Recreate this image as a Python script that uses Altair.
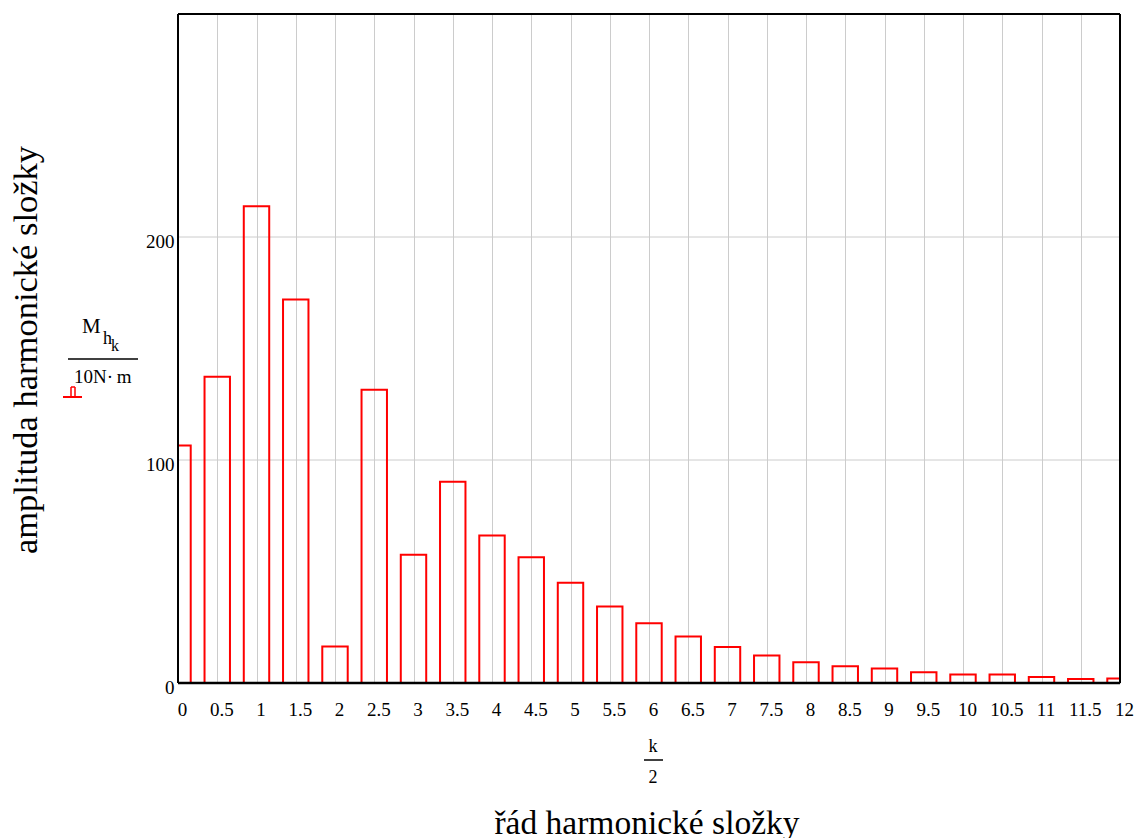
import altair as alt
import pandas as pd

# Harmonic order (k/2) and amplitude M_h_k / (10 N·m)
order = [0, 0.5, 1, 1.5, 2, 2.5, 3, 3.5, 4, 4.5, 5, 5.5, 6, 6.5, 7, 7.5, 8,
         8.5, 9, 9.5, 10, 10.5, 11, 11.5, 12]
amplitude = [106.5, 137.3, 213.8, 172.0, 16.4, 131.5, 57.5, 90.2, 66.1, 56.4,
             44.9, 34.3, 26.8, 20.9, 16.1, 12.3, 9.3, 7.5, 6.5, 4.8, 3.8, 3.8,
             2.7, 1.8, 2.0]
x_ticks = [i / 2 for i in range(25)]
y_ticks = [0, 100, 200]
y_grid = [100, 200]

HALF_W = 0.162
FONT = "Liberation Serif"
W, H = 942, 669

df = pd.DataFrame({"order": order, "amp": amplitude})
df["x0"] = df["order"] - HALF_W
df["x1"] = df["order"] + HALF_W
df["base"] = 0

xs = alt.Scale(domain=[0, 12], nice=False, zero=False)
ys = alt.Scale(domain=[0, 300], nice=False)

bars = alt.Chart(df).mark_rect(
    fill=None, fillOpacity=0, stroke="#ff0000", strokeWidth=2, clip=True
).encode(
    x=alt.X("x0:Q", scale=xs, axis=alt.Axis(
        values=x_ticks, format="~g", title=None, ticks=False,
        labelFont=FONT, labelFontSize=19, labelColor="black",
        labelPadding=17, labelOffset=4, labelFlush=False, labelOverlap=False,
        domain=False, grid=True, gridColor="#cccccc", gridWidth=1)),
    x2="x1:Q",
    y=alt.Y("amp:Q", scale=ys, axis=alt.Axis(
        values=y_ticks, title=None, ticks=False,
        labelFont=FONT, labelFontSize=19, labelColor="black",
        labelPadding=4, labelOffset=4, labelFlush=False,
        domain=False, grid=False)),
    y2="base:Q",
)

ygrid = alt.Chart(pd.DataFrame({"g": y_grid})).mark_rule(
    color="#cccccc", strokeWidth=1
).encode(y=alt.Y("g:Q", scale=ys))

one = pd.DataFrame({"a": [0]})


def label(text, x, y, size, align="left", angle=0, color="black"):
    return alt.Chart(one).mark_text(
        text=text, font=FONT, fontSize=size, align=align,
        baseline="alphabetic", angle=angle, color=color
    ).encode(x=alt.value(x), y=alt.value(y))


def seg(x1, x2, y1, y2, color="black", w=1.5):
    return alt.Chart(one).mark_rule(color=color, strokeWidth=w).encode(
        x=alt.value(x1), x2=alt.value(x2), y=alt.value(y1), y2=alt.value(y2))


# plot frame
frame = [
    seg(0, W, 0, 0, w=2),
    seg(W, W, 0, H, w=2),
    seg(0, 0, 0, H, w=2),
    seg(0, W, H, H, w=2.5),
]

annotations = [
    label("amplituda harmonické složky", -141, 336, 34.5, align="center", angle=270),
    label("řád harmonické složky", 469, 820, 33.5, align="center"),
    label("k", 475, 738, 18, align="center"),
    seg(466, 485, 746, 746),
    label("2", 475, 769, 18, align="center"),
    label("M", -96, 319, 21),
    label("h", -75, 330, 18),
    label("k", -67, 337, 16),
    seg(-110, -40, 345, 345),
    label("10N·\u2009m", -104, 369, 19),
    seg(-115, -96, 383, 383, color="#ff0000", w=2),
    seg(-107, -107, 373, 383, color="#ff0000", w=1.5),
    seg(-103, -103, 373, 383, color="#ff0000", w=1.5),
    seg(-107, -103, 373, 373, color="#ff0000", w=1.5),
]

chart = alt.layer(ygrid, bars, *frame, *annotations).properties(
    width=W, height=H,
    autosize=alt.AutoSizeParams(type="none"),
    padding={"left": 178, "top": 14, "right": 19, "bottom": 155},
).configure_view(
    stroke=None
).configure(background="white")

chart.save("out.html", embed_options={"renderer": "svg", "actions": False})
